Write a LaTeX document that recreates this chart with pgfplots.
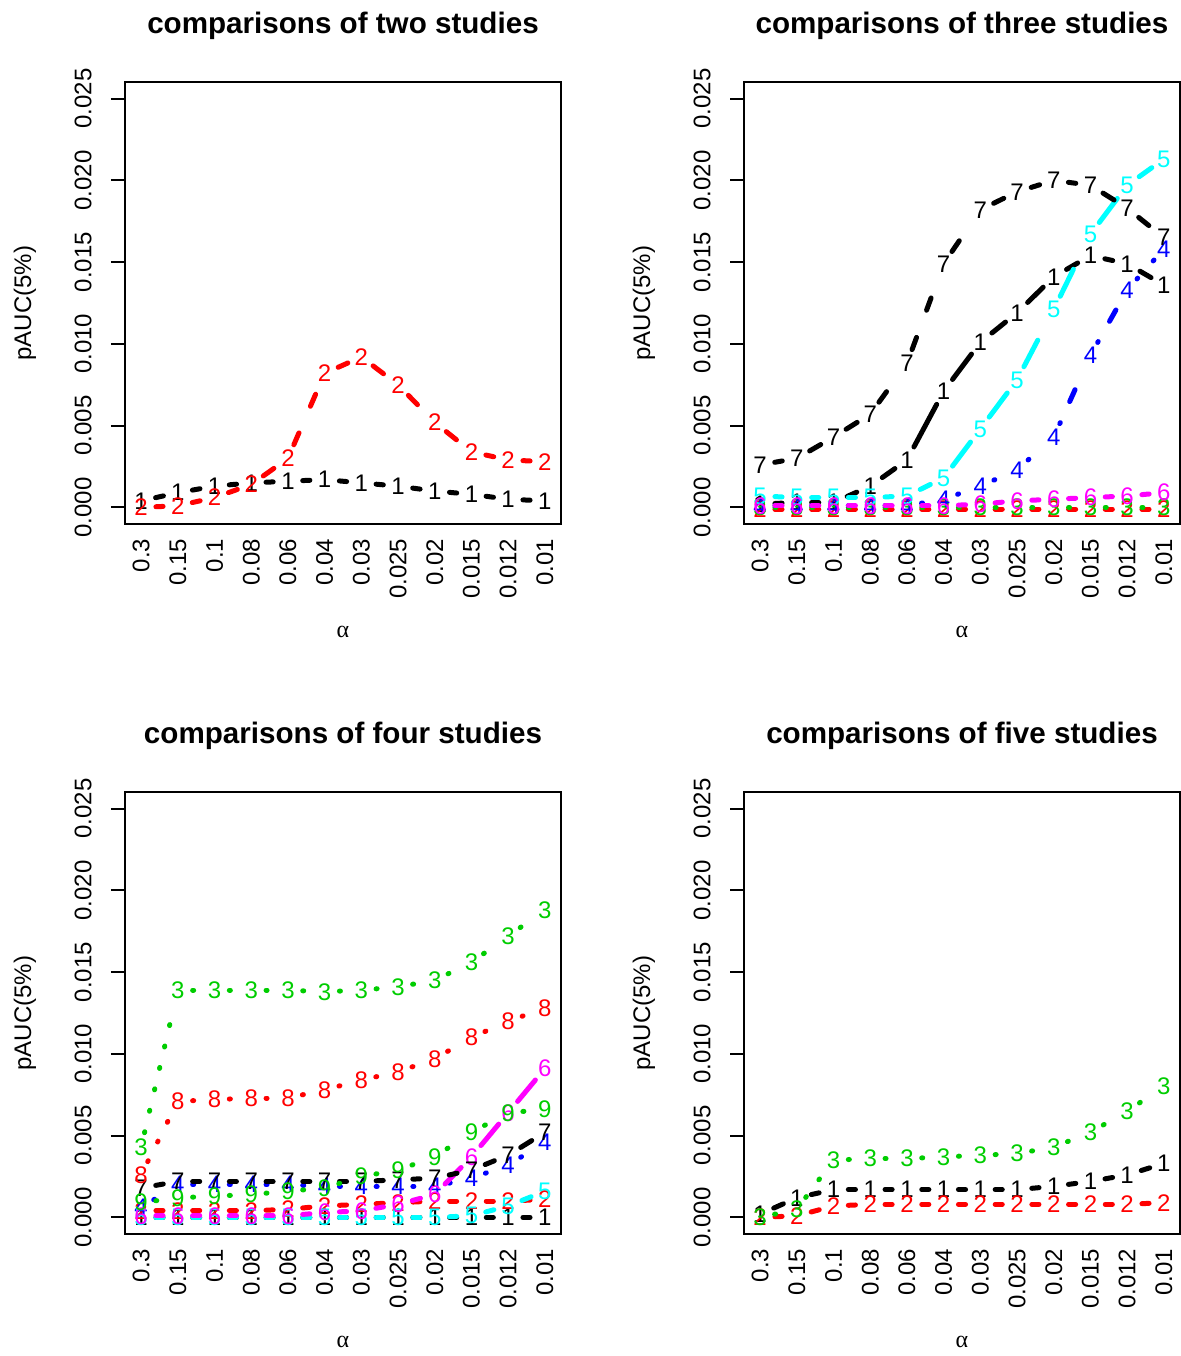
\documentclass[border=0pt]{standalone}
\usepackage{fontspec}
\setmainfont{Liberation Sans}
\newfontfamily\serifal{Liberation Serif}
\usepackage{pgfplots}
\pgfplotsset{compat=1.18}
\definecolor{rblack}{RGB}{0,0,0}
\definecolor{rred}{RGB}{255,0,0}
\definecolor{rgreen}{RGB}{0,205,0}
\definecolor{rblue}{RGB}{0,0,255}
\definecolor{rcyan}{RGB}{0,255,255}
\definecolor{rmag}{RGB}{255,0,255}
\pgfplotsset{
  lty1/.style={solid},
  lty2/.style={dash pattern=on 6.5pt off 14.5pt},
  lty3/.style={dash pattern=on 0.5pt off 10.5pt},
  lty4/.style={dash pattern=on 0.5pt off 11.6pt on 6.5pt off 11.6pt},
  lty5/.style={dash pattern=on 15pt off 12.5pt},
  seg/.style 2 args={forget plot, color=#1, line width=2.5pt, line cap=round, #2, shorten <=7.4pt, shorten >=7.4pt, mark=none},
  lab/.style 2 args={forget plot, draw=none, mark=none, nodes near coords={#2},
     every node near coord/.append style={anchor=center, inner sep=0pt, font=\fontsize{12}{14}\selectfont, text=#1}},
  panel/.style={
    scale only axis, width=218pt, height=221.4pt,
    xmin=0.56, xmax=12.44, ymin=-0.00104, ymax=0.02604,
    xtick={1,...,12},
    xticklabels={0.3,0.15,0.1,0.08,0.06,0.04,0.03,0.025,0.02,0.015,0.012,0.01},
    ytick={0,0.005,0.01,0.015,0.02,0.025},
    yticklabels={0.000,0.005,0.010,0.015,0.020,0.025},
    scaled y ticks=false,
    tick pos=left,
    axis line style={line width=1pt},
    xtick style={draw=none},
    ytick style={line width=1pt, black},
    tick align=outside, major tick length=7pt,
    tick label style={font=\fontsize{12}{14}\selectfont},
    xticklabel style={rotate=90, anchor=east, inner sep=0pt},
    yticklabel style={xshift=-9.5pt, rotate=90, anchor=south, inner sep=0pt},
    ylabel={pAUC(5\%)}, xlabel={{\serifal α}},
    label style={font=\fontsize{12}{14}\selectfont},
    ylabel style={at={(axis description cs:-0.2294,0.5)}, anchor=center, rotate=0},
    xlabel style={at={(axis description cs:0.5,-0.243)}, anchor=center},
    title style={at={(axis description cs:0.5,1.098)}, anchor=center, font=\bfseries\fontsize{14.8}{17}\selectfont},
  },
}
\newcommand\series[4]{%
  \gdef\coordlist{}%
  \foreach \yy [count=\ii] in {#4} {%
    \ifnum\ii>1
      \pgfmathtruncatemacro\jj{\ii-1}%
      \edef\tmp{\noexpand\addplot[seg={#1}{#2}] coordinates {(\jj,\prevy) (\ii,\yy)};}%
      \tmp
    \fi
    \xdef\prevy{\yy}%
    \xdef\coordlist{\coordlist (\ii,\yy)}%
  }%
  \edef\tmp{\noexpand\addplot[lab={#1}{#3}] coordinates {\coordlist};}%
  \tmp
}
\begin{document}
\begin{tikzpicture}
\useasboundingbox (0,0) rectangle (590.5pt,-678pt);
% panel 1
\begin{axis}[panel, at={(62.5pt,-40.8pt)}, anchor=north west, title={comparisons of two studies}]
\series{rblack}{lty1}{1}{0.0004,0.0009,0.0013,0.0015,0.0016,0.0017,0.0015,0.0013,0.0010,0.0008,0.0005,0.0004}
\series{rred}{lty2}{2}{0.0000,0.0001,0.0006,0.0014,0.0030,0.0082,0.0092,0.0075,0.0052,0.0034,0.0029,0.0028}
\end{axis}
% panel 2
\begin{axis}[panel, at={(372pt,-40.8pt)}, anchor=north west, title={comparisons of three studies}]
\series{rblack}{lty1}{1}{0.0002,0.0003,0.0003,0.0013,0.0029,0.0071,0.0101,0.0119,0.0141,0.0154,0.0149,0.0136}
\series{rred}{lty2}{2}{-0.0001,-0.0001,-0.0001,-0.0001,-0.0001,-0.0001,-0.0001,-0.0001,-0.0001,-0.0001,-0.0001,-0.0001}
\series{rgreen}{lty3}{3}{0.0000,0.0000,0.0000,0.0000,0.0000,0.0000,0.0000,0.0000,0.0000,0.0000,0.0000,0.0000}
\series{rblue}{lty4}{4}{0.0001,0.0001,0.0001,0.0001,0.0001,0.0005,0.0013,0.0023,0.0043,0.0093,0.0133,0.0158}
\series{rcyan}{lty5}{5}{0.0007,0.0006,0.0006,0.0006,0.0007,0.0018,0.0048,0.0078,0.0121,0.0167,0.0197,0.0213}
\series{rmag}{lty1}{6}{0.0001,0.0001,0.0001,0.0001,0.0001,0.0001,0.0002,0.0004,0.0005,0.0006,0.0007,0.0009}
\series{rblack}{lty2}{7}{0.0026,0.0030,0.0043,0.0057,0.0088,0.0149,0.0182,0.0193,0.0200,0.0197,0.0183,0.0165}
\end{axis}
% panel 3
\begin{axis}[panel, at={(62.5pt,-395.8pt)}, anchor=north west, title={comparisons of four studies}]
\series{rblack}{lty1}{1}{0.0000,0.0000,0.0000,0.0000,0.0000,0.0000,0.0000,0.0000,0.0000,0.0000,0.0000,0.0000}
\series{rred}{lty2}{2}{0.0004,0.0004,0.0004,0.0004,0.0005,0.0007,0.0008,0.0009,0.0010,0.0010,0.0010,0.0011}
\series{rgreen}{lty3}{3}{0.0043,0.0139,0.0139,0.0139,0.0139,0.0138,0.0139,0.0141,0.0145,0.0156,0.0172,0.0188}
\series{rblue}{lty4}{4}{0.0006,0.0020,0.0020,0.0020,0.0020,0.0019,0.0019,0.0019,0.0019,0.0024,0.0032,0.0046}
\series{rcyan}{lty5}{5}{0.0000,0.0000,0.0000,0.0000,0.0000,0.0000,0.0000,0.0000,0.0000,0.0001,0.0007,0.0016}
\series{rmag}{lty1}{6}{0.0001,0.0001,0.0001,0.0001,0.0001,0.0003,0.0004,0.0008,0.0014,0.0037,0.0064,0.0091}
\series{rblack}{lty2}{7}{0.0018,0.0022,0.0022,0.0022,0.0022,0.0022,0.0022,0.0023,0.0024,0.0029,0.0038,0.0052}
\series{rred}{lty3}{8}{0.0026,0.0071,0.0072,0.0073,0.0073,0.0078,0.0084,0.0089,0.0097,0.0110,0.0120,0.0128}
\series{rgreen}{lty4}{9}{0.0009,0.0012,0.0013,0.0014,0.0016,0.0018,0.0025,0.0029,0.0037,0.0052,0.0064,0.0066}
\end{axis}
% panel 4
\begin{axis}[panel, at={(372pt,-395.8pt)}, anchor=north west, title={comparisons of five studies}]
\series{rblack}{lty1}{1}{0.0002,0.0012,0.0017,0.0017,0.0017,0.0017,0.0017,0.0017,0.0019,0.0022,0.0026,0.0033}
\series{rred}{lty2}{2}{0.0000,0.0001,0.0007,0.0008,0.0008,0.0008,0.0008,0.0008,0.0008,0.0008,0.0008,0.0009}
\series{rgreen}{lty3}{3}{0.0000,0.0005,0.0035,0.0036,0.0036,0.0037,0.0038,0.0039,0.0043,0.0052,0.0065,0.0080}
\end{axis}
\end{tikzpicture}
\end{document}
